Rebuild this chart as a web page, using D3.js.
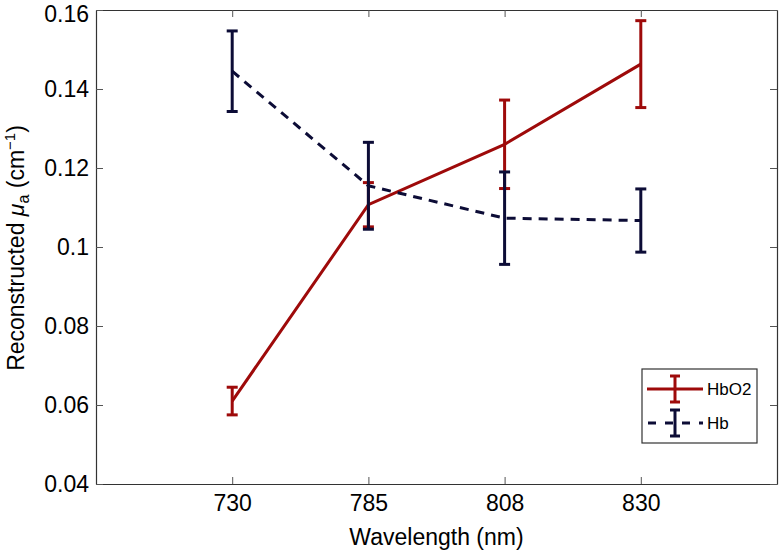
<!DOCTYPE html>
<html><head><meta charset="utf-8">
<script src="https://cdn.jsdelivr.net/npm/d3@7"></script>
<style>
body{margin:0;background:#fff;}
text{font-family:"Liberation Sans",Arial,Helvetica,sans-serif;fill:#000;}
</style></head>
<body><svg id="c" width="780" height="553"></svg>
<script>
const wavelengths = ["730","785","808","830"];
const hbo2 = [0.0610, 0.1107, 0.1260, 0.1463];
const hbo2Err = [0.0035, 0.0056, 0.0112, 0.0110];
const hb = [0.1445, 0.1155, 0.1073, 0.1067];
const hbErr = [0.0102, 0.0110, 0.0117, 0.0080];
const yTicks = [0.04,0.06,0.08,0.1,0.12,0.14,0.16];
const yTickLabels = ["0.04","0.06","0.08","0.1","0.12","0.14","0.16"];
const seriesNames = ["HbO2","Hb"];
const colors = ["#9e0a0a","#0c0c36"];

const svg = d3.select("#c");
const L=96,R=777,T=10,B=484;
const x = d3.scaleLinear().domain([0,5]).range([L,R]);
const y = d3.scaleLinear().domain([0.04,0.16]).range([B,T]);

const g = svg.append("g");
const tl=7, FS=23;
const xAxB = d3.axisBottom(x).tickValues([1,2,3,4]).tickFormat((d)=>wavelengths[d-1]).tickSizeInner(-tl).tickSizeOuter(0).tickPadding(11);
const xAxT = d3.axisTop(x).tickValues([1,2,3,4]).tickFormat("").tickSizeInner(-tl).tickSizeOuter(0);
const yAxL = d3.axisLeft(y).tickValues(yTicks).tickFormat((d,i)=>yTickLabels[i]).tickSizeInner(-tl).tickSizeOuter(0).tickPadding(7);
const yAxR = d3.axisRight(y).tickValues(yTicks).tickFormat("").tickSizeInner(-tl).tickSizeOuter(0);
function style(sel){sel.selectAll("path").attr("stroke","#333").attr("stroke-width",1.2);
  sel.selectAll("line").attr("stroke","#555").attr("stroke-width",1);
  sel.selectAll("text").attr("font-size",FS).attr("font-family","Liberation Sans, Arial, sans-serif").attr("fill","#000");}
g.append("g").attr("transform",`translate(0,${B})`).call(xAxB).call(style);
g.append("g").attr("transform",`translate(0,${T})`).call(xAxT).call(style);
const ya=g.append("g").attr("transform",`translate(${L},0)`).call(yAxL).call(style);
ya.selectAll(".tick text").filter(d=>d===0.16).attr("dy","0.5em");
g.append("g").attr("transform",`translate(${R},0)`).call(yAxR).call(style);

const data=[{v:hbo2,e:hbo2Err,c:colors[0],dash:null},{v:hb,e:hbErr,c:colors[1],dash:"9,7"}];
const line=d3.line().x((d,i)=>x(i+1)).y(d=>y(d));
const cap=5.5;
data.forEach(s=>{
  const gg=g.append("g");
  gg.append("path").attr("d",line(s.v)).attr("fill","none").attr("stroke",s.c).attr("stroke-width",3).attr("stroke-dasharray",s.dash);
  s.v.forEach((v,i)=>{
    const cx=x(i+1), y1=y(v+s.e[i]), y2=y(v-s.e[i]);
    gg.append("line").attr("x1",cx).attr("x2",cx).attr("y1",y1).attr("y2",y2).attr("stroke",s.c).attr("stroke-width",3);
    [y1,y2].forEach(yy=>gg.append("line").attr("x1",cx-cap).attr("x2",cx+cap).attr("y1",yy).attr("y2",yy).attr("stroke",s.c).attr("stroke-width",3));
  });
});

svg.append("text").attr("x",(L+R)/2).attr("y",545).attr("text-anchor","middle").attr("font-size",FS).text("Wavelength (nm)");
const yl=svg.append("text").attr("transform",`translate(24,${248}) rotate(-90)`).attr("text-anchor","middle").attr("font-size",FS);
yl.append("tspan").text("Reconstructed ");
yl.append("tspan").attr("font-style","italic").text("μ");
yl.append("tspan").attr("font-size",16).attr("dy",5).text("a");
yl.append("tspan").attr("dy",-5).text(" (cm");
yl.append("tspan").attr("font-size",15).attr("dy",-9).text("−1");
yl.append("tspan").attr("dy",9).text(")");

const lg=svg.append("g");
const lx=642, ly=369, lw=115, lh=74;
lg.append("rect").attr("x",lx).attr("y",ly).attr("width",lw).attr("height",lh).attr("fill","#fff").attr("stroke","#333").attr("stroke-width",1.2);
data.forEach((s,k)=>{
  const ry=389+k*34;
  lg.append("line").attr("x1",647).attr("x2",703).attr("y1",ry).attr("y2",ry).attr("stroke",s.c).attr("stroke-width",3).attr("stroke-dasharray",s.dash?"8,9":null).attr("stroke-dashoffset",s.dash?-1:null);
  lg.append("line").attr("x1",675).attr("x2",675).attr("y1",ry-13).attr("y2",ry+13).attr("stroke",s.c).attr("stroke-width",3);
  [ry-13,ry+13].forEach(yy=>lg.append("line").attr("x1",670).attr("x2",680).attr("y1",yy).attr("y2",yy).attr("stroke",s.c).attr("stroke-width",3));
  lg.append("text").attr("x",707).attr("y",ry+6).attr("font-size",17).text(seriesNames[k]);
});
</script></body></html>
